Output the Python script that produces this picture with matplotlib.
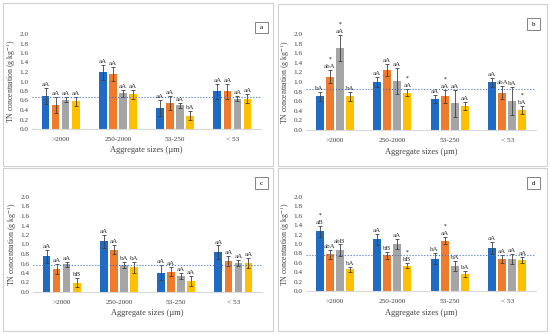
import numpy as np
import matplotlib
matplotlib.use('Agg')
from matplotlib import pyplot as plt
from matplotlib.patches import Rectangle

plt.rcParams['font.family'] = ['Liberation Serif', 'DejaVu Serif']
plt.rcParams['mathtext.fontset'] = 'stix'

sizes = ['>2000', '250-2000', '53-250', '< 53']
colors = ['#1f6bc4', '#f07b2c', '#a5a5a5', '#ffc000']

# panel a
a_vals = [[0.70, 1.19, 0.45, 0.79], [0.50, 1.16, 0.55, 0.79],
          [0.62, 0.75, 0.50, 0.64], [0.58, 0.73, 0.28, 0.64]]
a_err = [[0.17, 0.15, 0.17, 0.16], [0.17, 0.15, 0.15, 0.16],
         [0.06, 0.07, 0.05, 0.05], [0.10, 0.10, 0.10, 0.09]]
a_lab = [['aA', 'aA', 'aA', 'aA'], ['aA', 'aA', 'aA', 'aA'],
         ['aA', 'aA', 'aA', 'aA'], ['aA', 'aA', 'bA', 'aA']]
a_star = [[0, 0, 0, 0], [0, 0, 0, 0], [0, 0, 0, 0], [0, 0, 0, 0]]
a_mean = 0.67

# panel b
b_vals = [[0.70, 1.00, 0.64, 0.99], [1.11, 1.25, 0.70, 0.78],
          [1.71, 1.02, 0.56, 0.60], [0.70, 0.78, 0.50, 0.42]]
b_err = [[0.10, 0.10, 0.08, 0.09], [0.14, 0.13, 0.14, 0.13],
         [0.27, 0.28, 0.28, 0.29], [0.09, 0.08, 0.08, 0.08]]
b_lab = [['bA', 'aA', 'aA', 'aA'], ['abA', 'aA', 'aA', 'abA'],
         ['aA', 'aA', 'aA', 'bA'], ['bA', 'aA', 'aA', 'bA']]
b_star = [[0, 0, 0, 0], [1, 0, 1, 0], [1, 0, 0, 0], [0, 1, 0, 1]]
b_mean = 0.85

# panel c
c_vals = [[0.75, 1.07, 0.41, 0.84], [0.48, 0.89, 0.43, 0.65],
          [0.58, 0.57, 0.34, 0.61], [0.20, 0.52, 0.23, 0.61]]
c_err = [[0.14, 0.14, 0.15, 0.14], [0.10, 0.10, 0.10, 0.11],
         [0.06, 0.06, 0.07, 0.07], [0.10, 0.11, 0.11, 0.11]]
c_lab = [['aA', 'aA', 'aA', 'aA'], ['aA', 'aA', 'aA', 'aA'],
         ['aA', 'bA', 'aA', 'aA'], ['bB', 'bA', 'aA', 'aA']]
c_star = [[0, 0, 0, 0], [0, 0, 0, 0], [0, 0, 0, 0], [0, 0, 0, 0]]
c_mean = 0.57

# panel d
d_vals = [[1.27, 1.10, 0.69, 0.92], [0.78, 0.76, 1.07, 0.68],
          [0.87, 1.00, 0.53, 0.68], [0.46, 0.54, 0.36, 0.66]]
d_err = [[0.12, 0.12, 0.11, 0.13], [0.09, 0.08, 0.08, 0.08],
         [0.12, 0.10, 0.10, 0.10], [0.06, 0.06, 0.07, 0.07]]
d_lab = [['aB', 'aA', 'bA', 'aA'], ['abA', 'bB', 'aA', 'aA'],
         ['abB', 'aA', 'bA', 'aA'], ['bA', 'bB', 'bA', 'aA']]
d_star = [[1, 0, 0, 0], [0, 0, 1, 0], [0, 0, 0, 0], [0, 1, 0, 0]]
d_mean = 0.77

W, H = 550, 334
fig = plt.figure(figsize=(5.5, 3.34), dpi=100)


def px(x0, y0, x1, y1):
    # pixel box (top-left origin) -> figure fraction rect
    return [x0 / W, 1 - y1 / H, (x1 - x0) / W, (y1 - y0) / H]


def panel(rect, box, tag_box, xl_y, vals, errs, labs, stars, mean, tag):
    fig.patches.append(Rectangle((box[0] / W, 1 - box[3] / H),
                                 (box[2] - box[0]) / W, (box[3] - box[1]) / H,
                                 transform=fig.transFigure, fill=False,
                                 edgecolor='#d0d0d0', lw=0.8))
    fig.patches.append(Rectangle((tag_box[0] / W, 1 - tag_box[3] / H),
                                 (tag_box[2] - tag_box[0]) / W, (tag_box[3] - tag_box[1]) / H,
                                 transform=fig.transFigure, fill=False,
                                 edgecolor='#707070', lw=0.6))
    fig.text((tag_box[0] + tag_box[2]) / 2 / W, 1 - (tag_box[1] + tag_box[3]) / 2 / H,
             tag, ha='center', va='center', fontsize=5)
    ax = fig.add_axes(px(*rect))
    x = np.arange(len(sizes))
    step, w = 0.175, 0.135
    for i in range(4):
        xs = x + (i - 1.5) * step
        ax.bar(xs, vals[i], w, color=colors[i], yerr=errs[i],
               error_kw=dict(ecolor='#404040', elinewidth=0.6, capsize=1.5, capthick=0.6))
        for j in range(4):
            top = vals[i][j] + errs[i][j]
            ax.text(xs[j], top + 0.02, labs[i][j], ha='center', va='bottom',
                    fontsize=5, clip_on=False, color='#303030')
            if stars[i][j]:
                ax.text(xs[j], top + 0.17, '*', ha='center', va='bottom',
                        fontsize=4, clip_on=False)
    ax.axhline(mean, color='#4472c4', ls=':', lw=0.8)
    ax.set_xlim(-0.5, 3.5)
    ax.set_ylim(0, 2.0)
    ax.set_yticks(np.arange(0, 2.01, 0.2))
    ax.set_yticklabels(['%.1f' % v for v in np.arange(0, 2.01, 0.2)])
    ax.set_xticks(x)
    ax.set_xticklabels(sizes)
    ax.tick_params(length=0, labelsize=5.2, pad=2.5, colors='#404040')
    ax.tick_params(axis='x', pad=6)
    for s in ['top', 'right', 'left']:
        ax.spines[s].set_visible(False)
    ax.spines['bottom'].set_color('#d9d9d9')
    ax.spines['bottom'].set_linewidth(0.8)
    ax.set_facecolor('none')
    cx = (rect[0] + rect[2]) / 2
    fig.text(cx / W, 1 - xl_y / H, 'Aggregate sizes (\u00b5m)', ha='center',
             va='center', fontsize=6, color='#404040')
    fig.text((rect[0] - 21) / W, 1 - (rect[1] + rect[3]) / 2 / H,
             'TN concentration (g kg$^{-1}$)', rotation=90, ha='center',
             va='center', fontsize=5.6, color='#404040')
    return ax


panel((32, 34, 261, 129), (3, 3, 273, 166), (255, 22, 268, 33), 150,
      a_vals, a_err, a_lab, a_star, a_mean, 'a')
panel((306, 34, 536, 130), (278, 4, 547, 166), (527, 18, 540, 30), 152,
      b_vals, b_err, b_lab, b_star, b_mean, 'b')
panel((33, 197, 262, 292), (3, 168, 273, 331), (255, 177, 268, 189), 313,
      c_vals, c_err, c_lab, c_star, c_mean, 'c')
panel((306, 197, 536, 291), (278, 168, 547, 331), (527, 177, 540, 189), 313,
      d_vals, d_err, d_lab, d_star, d_mean, 'd')

fig.savefig('out.png', dpi=100)
